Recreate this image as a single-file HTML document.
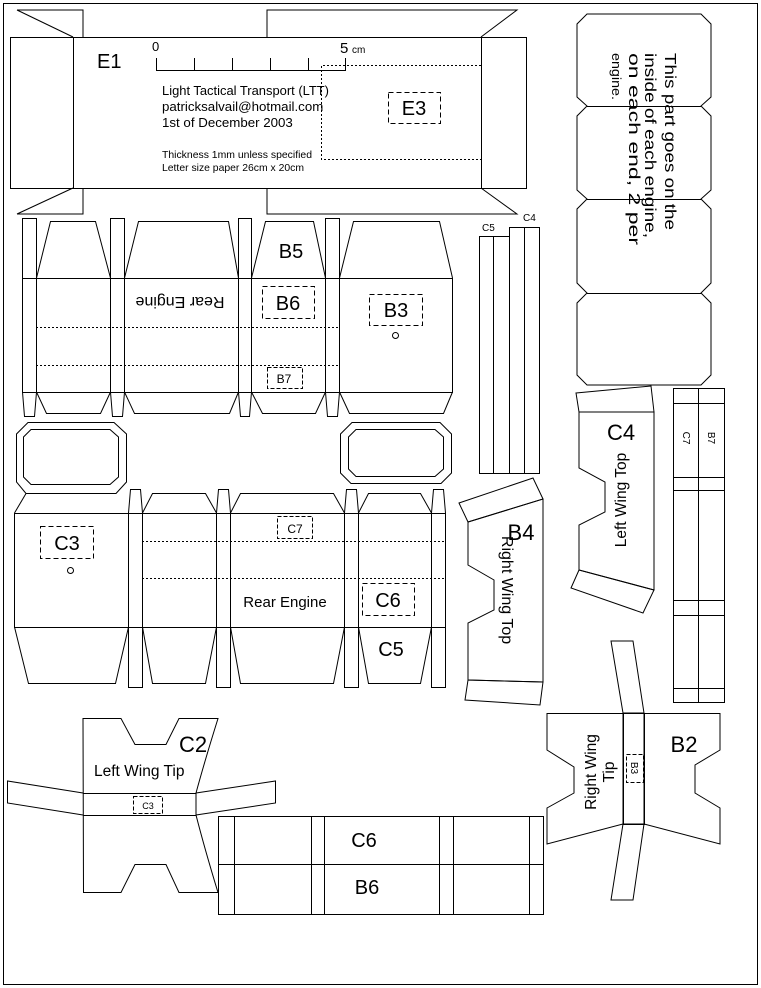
<!DOCTYPE html>
<html><head><meta charset="utf-8"><style>
html,body{margin:0;padding:0;background:#fff;}
svg{display:block;}
text{font-family:"Liberation Sans",Arial,sans-serif;fill:#000;}
</style></head><body>
<svg width="761" height="988" viewBox="0 0 761 988" xmlns="http://www.w3.org/2000/svg">
<g fill="none" stroke="#000" stroke-width="1">
<rect x="3.5" y="3.5" width="754" height="981"/>

<!-- E1 -->
<polyline points="17,10 83,10 83,37"/>
<line x1="17" y1="10" x2="73" y2="37"/>
<polyline points="267,37 267,10 517,10 481,37"/>
<polyline points="17,214 83,214 83,188"/>
<line x1="17" y1="214" x2="73" y2="188"/>
<polyline points="267,188 267,214 517,214 481,188"/>
<rect x="10.5" y="37.5" width="516" height="151"/>
<line x1="73.5" y1="37" x2="73.5" y2="188"/>
<line x1="481.5" y1="37" x2="481.5" y2="188"/>
<polyline points="156.5,58 156.5,70.5 345.5,70.5 345.5,58"/>
<line x1="194.5" y1="58" x2="194.5" y2="70"/>
<line x1="232.5" y1="58" x2="232.5" y2="70"/>
<line x1="270.5" y1="58" x2="270.5" y2="70"/>
<line x1="308.5" y1="58" x2="308.5" y2="70"/>
<polyline points="481,65.5 321.5,65.5 321.5,159.5 481,159.5" stroke-dasharray="2,2"/>
<rect x="388.5" y="92.5" width="52" height="31" stroke-dasharray="5,3"/>

<!-- right octagon panels -->
<path d="M587,14 L701,14 L711,24 L711,97 L701,106 L711,116 L711,190 L701,199 L711,209 L711,283 L701,293 L711,303 L711,375 L701,385 L587,385 L577,375 L577,303 L587,293 L577,283 L577,209 L587,199 L577,190 L577,116 L587,106 L577,97 L577,24 Z"/>
<line x1="587" y1="106.5" x2="701" y2="106.5"/>
<line x1="587" y1="199.5" x2="701" y2="199.5"/>
<line x1="587" y1="293.5" x2="701" y2="293.5"/>

<!-- C5 C4 strips -->
<rect x="479.5" y="236.5" width="30" height="237"/>
<line x1="493.5" y1="236" x2="493.5" y2="473"/>
<rect x="509.5" y="227.5" width="30" height="246"/>
<line x1="524.5" y1="227" x2="524.5" y2="473"/>

<!-- B row -->
<rect x="22.5" y="278.5" width="430" height="114"/>
<line x1="36" y1="327.5" x2="339" y2="327.5" stroke-dasharray="2,2"/>
<line x1="36" y1="365.5" x2="339" y2="365.5" stroke-dasharray="2,2"/>
<line x1="339.5" y1="278" x2="339.5" y2="392" stroke-dasharray="2,2"/>
<g>
<rect x="22.5" y="218.5" width="14" height="174"/><polyline points="22.5,392 24.5,416.5 34.5,416.5 36.5,392"/>
<rect x="110.5" y="218.5" width="14" height="174"/><polyline points="110.5,392 112.5,416.5 122.5,416.5 124.5,392"/>
<rect x="238.5" y="218.5" width="13" height="174"/><polyline points="238.5,392 240.5,416.5 249.5,416.5 251.5,392"/>
<rect x="325.5" y="218.5" width="14" height="174"/><polyline points="325.5,392 327.5,416.5 337.5,416.5 339.5,392"/>
</g>
<polyline points="36.5,278 50.5,221.5 95.5,221.5 110.5,278"/>
<polyline points="124.5,278 138.5,221.5 228.5,221.5 238.5,278"/>
<polyline points="251.5,278 265.5,221.5 313.5,221.5 325.5,278"/>
<polyline points="339.5,278 353.5,221.5 439.5,221.5 452.5,278"/>
<polyline points="36.5,392 46.5,413.5 100.5,413.5 110.5,392"/>
<polyline points="124.5,392 134.5,413.5 229.5,413.5 238.5,392"/>
<polyline points="251.5,392 262.5,413.5 315.5,413.5 325.5,392"/>
<polyline points="339.5,392 349.5,413.5 443.5,413.5 452.5,392"/>
<rect x="262.5" y="286.5" width="52" height="32" stroke-dasharray="5,3"/>
<rect x="267.5" y="367.5" width="35" height="21" stroke-dasharray="4,2"/>
<rect x="369.5" y="294.5" width="53" height="31" stroke-dasharray="5,3"/>
<circle cx="395.5" cy="335.5" r="3"/>

<!-- windows -->
<polygon points="28,422.5 114,422.5 126.5,434 126.5,482 116,493.5 26,493.5 16.5,482 16.5,434"/>
<polygon points="31,429.5 110,429.5 118.5,437 118.5,477 110,484.5 31,484.5 23.5,477 23.5,437"/>
<polygon points="352,422.5 440,422.5 451.5,434 451.5,473 441,483.5 351,483.5 340.5,473 340.5,434"/>
<polygon points="356,429.5 435,429.5 443.5,437 443.5,469 435,476.5 356,476.5 348.5,469 348.5,437"/>

<!-- C row -->
<polyline points="26,493.5 14.5,513 M116,493.5 128.5,513"/>
<rect x="14.5" y="513.5" width="431" height="114"/>
<line x1="142" y1="541.5" x2="445" y2="541.5" stroke-dasharray="2,2"/>
<line x1="142" y1="578.5" x2="445" y2="578.5" stroke-dasharray="2,2"/>
<line x1="128.5" y1="513" x2="128.5" y2="627" stroke-dasharray="2,2"/>
<polyline points="128.5,513 130.5,489.5 140.5,489.5 142.5,513"/><rect x="128.5" y="513.5" width="14" height="174"/>
<polyline points="216.5,513 218.5,489.5 228.5,489.5 230.5,513"/><rect x="216.5" y="513.5" width="14" height="174"/>
<polyline points="344.5,513 346.5,489.5 356.5,489.5 358.5,513"/><rect x="344.5" y="513.5" width="14" height="174"/>
<polyline points="431.5,513 433.5,489.5 443.5,489.5 445.5,513"/><rect x="431.5" y="513.5" width="14" height="174"/>
<polyline points="142.5,513 152.5,493.5 205.5,493.5 216.5,513"/>
<polyline points="230.5,513 240.5,493.5 333.5,493.5 344.5,513"/>
<polyline points="358.5,513 368.5,493.5 420.5,493.5 431.5,513"/>
<polyline points="14.5,627 28.5,683.5 115.5,683.5 128.5,627"/>
<polyline points="142.5,627 152.5,683.5 205.5,683.5 216.5,627"/>
<polyline points="230.5,627 240.5,683.5 333.5,683.5 344.5,627"/>
<polyline points="358.5,627 368.5,683.5 420.5,683.5 431.5,627"/>
<rect x="40.5" y="526.5" width="53" height="32" stroke-dasharray="5,3"/>
<circle cx="70.5" cy="570.5" r="3"/>
<rect x="277.5" y="516.5" width="35" height="22" stroke-dasharray="4,2"/>
<rect x="362.5" y="583.5" width="52" height="32" stroke-dasharray="5,3"/>

<!-- C4 Left wing top -->
<polygon points="576,393 651,386 654,412 579,412"/>
<polygon points="579,412 654,412 654,590 579,570 579,525 605,512 605,482 579,468"/>
<polygon points="579,570 654,590 643,613 571,588"/>

<!-- B4 Right wing top -->
<polygon points="459,503 533,478 543,499 468,522"/>
<polygon points="468,522 543,499 543,682 468,680 468,623 494,610 494,580 468,565"/>
<polygon points="468,680 543,682 540,705 465,700"/>

<!-- C7/B7 strip -->
<rect x="673.5" y="388.5" width="51" height="314"/>
<line x1="698.5" y1="388" x2="698.5" y2="702"/>
<line x1="673" y1="403.5" x2="724" y2="403.5"/>
<line x1="673" y1="477.5" x2="724" y2="477.5"/>
<line x1="673" y1="490.5" x2="724" y2="490.5"/>
<line x1="673" y1="600.5" x2="724" y2="600.5"/>
<line x1="673" y1="615.5" x2="724" y2="615.5"/>
<line x1="673" y1="688.5" x2="724" y2="688.5"/>

<!-- B2 Right wing tip -->
<polygon points="611,641 633,641 644,713 623,713"/>
<rect x="623.5" y="713.5" width="21" height="111"/>
<polygon points="623,824 644,824 633,900 611,900"/>
<polygon points="547,713.5 623,713.5 623,824 547,844 547,808 574,793 574,767 547,750"/>
<polygon points="644,713.5 720,713.5 720,750 695,765 695,793 720,808 720,844 644,824"/>
<rect x="626.5" y="754.5" width="17" height="28" stroke-dasharray="4,2"/>

<!-- C2 Left wing tip -->
<path d="M83,718.5 L121,718.5 L135,744.5 L166,744.5 L179,718.5 L218,718.5 Q205,760 196,793 L196,815 Q205,850 218,892.5 L179,892.5 L166,864.5 L135,864.5 L121,892.5 L83.5,892.5 Z"/>
<line x1="83" y1="793.5" x2="196" y2="793.5"/>
<line x1="83" y1="815.5" x2="196" y2="815.5"/>
<polyline points="83,793 7.5,781 7.5,803 83,815"/>
<polyline points="196,793 275.5,781 275.5,803 196,815"/>
<rect x="133.5" y="796.5" width="29" height="17" stroke-dasharray="4,2"/>

<!-- C6/B6 -->
<rect x="218.5" y="816.5" width="325" height="98"/>
<line x1="218" y1="864.5" x2="543" y2="864.5"/>
<line x1="234.5" y1="816" x2="234.5" y2="914"/>
<line x1="311.5" y1="816" x2="311.5" y2="914"/>
<line x1="324.5" y1="816" x2="324.5" y2="914"/>
<line x1="439.5" y1="816" x2="439.5" y2="914"/>
<line x1="453.5" y1="816" x2="453.5" y2="914"/>
<line x1="529.5" y1="816" x2="529.5" y2="914"/>
</g>

<!-- Text -->
<text x="97" y="68" font-size="20">E1</text>
<text x="152" y="51" font-size="13">0</text>
<text x="340" y="53" font-size="15">5</text><text x="352" y="53" font-size="10">cm</text>
<text x="162" y="95" font-size="13.3" textLength="167" lengthAdjust="spacingAndGlyphs">Light Tactical Transport (LTT)</text>
<text x="162" y="111" font-size="13.3">patricksalvail@hotmail.com</text>
<text x="162" y="127" font-size="13.3">1st of December 2003</text>
<text x="162" y="158" font-size="10.4" textLength="150" lengthAdjust="spacingAndGlyphs">Thickness 1mm unless specified</text>
<text x="162" y="171" font-size="10.4" textLength="142" lengthAdjust="spacingAndGlyphs">Letter size paper 26cm x 20cm</text>
<text x="414" y="115" font-size="20" text-anchor="middle">E3</text>

<text transform="translate(665,53) rotate(90)" font-size="16" textLength="177" lengthAdjust="spacingAndGlyphs">This part goes on the</text>
<text transform="translate(645,53) rotate(90)" font-size="16" textLength="185" lengthAdjust="spacingAndGlyphs">inside of each engine,</text>
<text transform="translate(629,53) rotate(90)" font-size="16" textLength="192" lengthAdjust="spacingAndGlyphs">on each end, 2 per</text>
<text transform="translate(612,53) rotate(90)" font-size="13" textLength="47" lengthAdjust="spacingAndGlyphs">engine.</text>
<text x="482" y="231" font-size="10">C5</text>
<text x="523" y="221" font-size="10">C4</text>

<text x="291" y="258" font-size="20" text-anchor="middle">B5</text>
<text transform="translate(180,297) rotate(180)" font-size="16" text-anchor="middle">Rear Engine</text>
<text x="288" y="310" font-size="20" text-anchor="middle">B6</text>
<text x="284" y="383" font-size="12" text-anchor="middle">B7</text>
<text x="396" y="317" font-size="20" text-anchor="middle">B3</text>

<text x="67" y="550" font-size="20" text-anchor="middle">C3</text>
<text x="295" y="533" font-size="12" text-anchor="middle">C7</text>
<text x="285" y="607" font-size="15" text-anchor="middle">Rear Engine</text>
<text x="388" y="607" font-size="20" text-anchor="middle">C6</text>
<text x="391" y="656" font-size="20" text-anchor="middle">C5</text>

<text x="621" y="440" font-size="22" text-anchor="middle">C4</text>
<text transform="translate(626,500) rotate(-90)" font-size="15.5" text-anchor="middle">Left Wing Top</text>
<text x="521" y="540" font-size="22" text-anchor="middle">B4</text>
<text transform="translate(502,590) rotate(90)" font-size="16" text-anchor="middle">Right Wing Top</text>
<text transform="translate(683,438) rotate(90)" font-size="10" text-anchor="middle">C7</text>
<text transform="translate(708,438) rotate(90)" font-size="10" text-anchor="middle">B7</text>

<text x="684" y="752" font-size="22" text-anchor="middle">B2</text>
<text transform="translate(596,772) rotate(-90)" font-size="15.5" text-anchor="middle">Right Wing</text>
<text transform="translate(614,772) rotate(-90)" font-size="15.5" text-anchor="middle">Tip</text>
<text transform="translate(631,768) rotate(90)" font-size="10" text-anchor="middle">B3</text>

<text x="193" y="752" font-size="22" text-anchor="middle">C2</text>
<text x="94" y="776" font-size="15.5">Left Wing Tip</text>
<text x="148" y="809" font-size="9" text-anchor="middle">C3</text>

<text x="364" y="847" font-size="20" text-anchor="middle">C6</text>
<text x="367" y="894" font-size="20" text-anchor="middle">B6</text>
</svg>
</body></html>
